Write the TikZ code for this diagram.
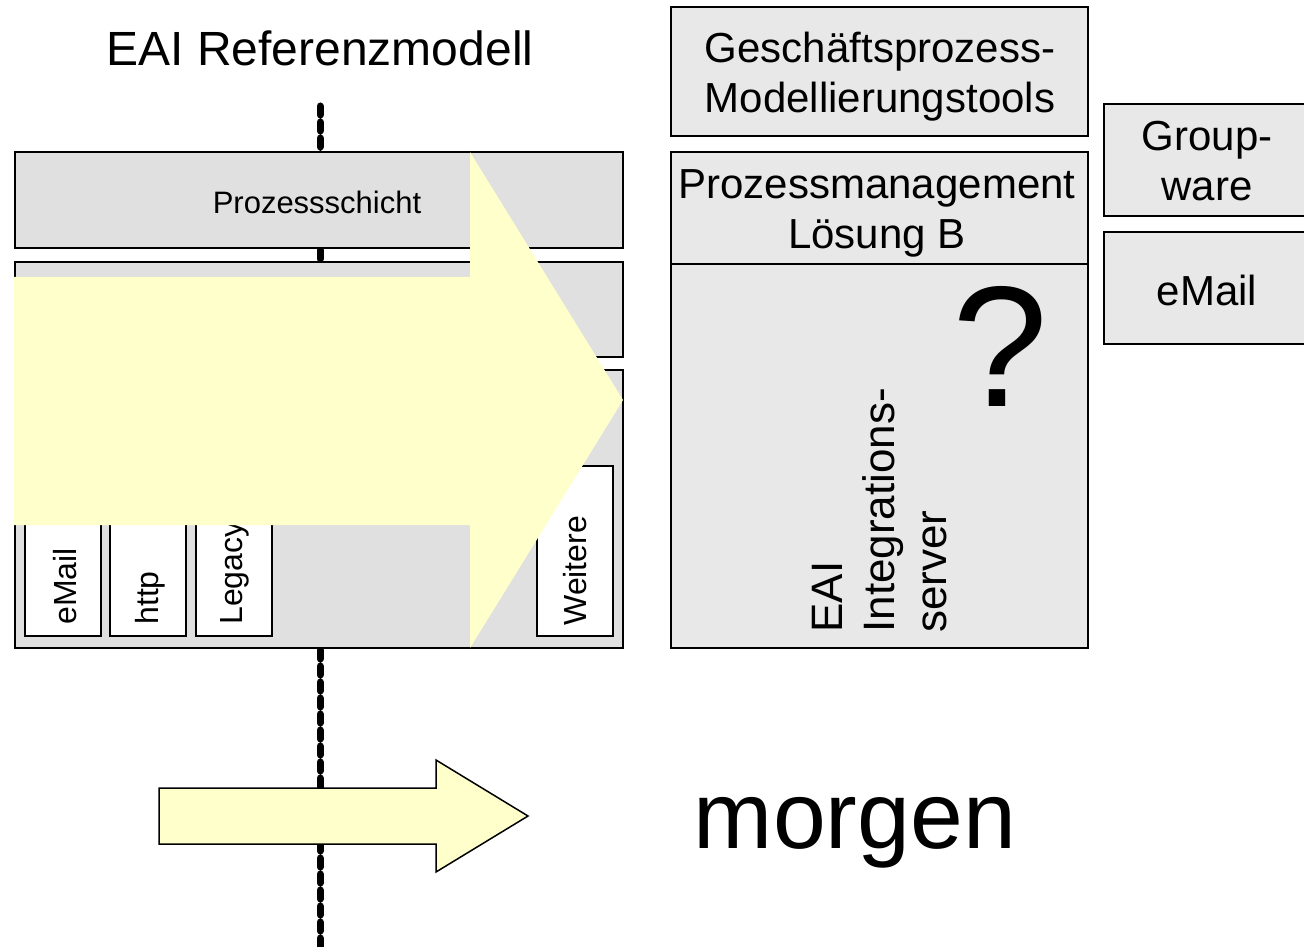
\documentclass[tikz,border=0pt]{standalone}
\usepackage{fontspec}
\setmainfont{Liberation Sans}
\usetikzlibrary{positioning}

\definecolor{layergray}{HTML}{E0E0E0}
\definecolor{rightgray}{HTML}{E8E8E8}
\definecolor{arrowyellow}{HTML}{FFFFCC}

\tikzset{
    layer/.style={draw=black, line width=1pt, fill=layergray, inner sep=0pt, minimum width=304pt},
    rbox/.style={draw=black, line width=1pt, fill=rightgray, inner sep=0pt},
    slot/.style={draw=black, line width=1pt, fill=white, inner sep=0pt, minimum width=38pt, minimum height=85pt},
    vlabel/.style={rotate=90, anchor=west, inner sep=0pt, font=\fontsize{16}{19}\selectfont},
    rlabel/.style={align=center, inner sep=0pt, font=\fontsize{21}{25}\selectfont},
    sepline/.style={line width=3.5pt, line cap=round, dash pattern=on 4.5pt off 3.5pt},
}

\begin{document}
\begin{tikzpicture}[x=0.5pt, y=-0.5pt]
    \useasboundingbox (0,0) rectangle (1304,946);

    % dividing line
    \coordinate (linetop) at (320,106);
    \coordinate (linebot) at (320,950);
    \draw[sepline] (linetop) -- (linebot);

    \node[inner sep=0pt, font=\fontsize{24}{28}\selectfont] (title) at (320,48) {EAI Referenzmodell};

    % left: reference model layers
    \node[layer, minimum height=48pt] (prozess) at (319,200) {};
    \node[layer, minimum height=47.5pt] (mitte) at (319,309.5) {};
    \node[layer, minimum height=139pt] (adapter) at (319,509) {};
    \node[inner sep=0pt, font=\fontsize{15.5}{18}\selectfont] (prozesstxt) at (317,202) {Prozessschicht};

    \node[slot] (mailslot) at (63,551) {};
    \node[slot] (httpslot) at (148,551) {};
    \node[slot] (legacyslot) at (234,551) {};
    \node[slot] (weitereslot) at (575,551) {};
    \node[vlabel] (mailtxt) at (65,625) {eMail};
    \node[vlabel] (httptxt) at (150,625) {http};
    \node[vlabel] (legacytxt) at (235,625) {Legacy};
    \node[vlabel] (weiteretxt) at (575,626) {Weitere};

    % big arrow over the model
    \fill[arrowyellow] (14,277) -- (470,277) -- (470,152) -- (623,400)
        -- (470,648) -- (470,525) -- (14,525) -- cycle;

    % right: tomorrow
    \node[rbox, minimum width=208.5pt, minimum height=64.5pt] (gpm) at (879.5,71.5) {};
    \node[rbox, minimum width=208.5pt, minimum height=56pt] (pml) at (879.5,208) {};
    \node[rbox, minimum width=208.5pt, minimum height=192pt] (eai) at (879.5,456) {};
    \node[rbox, minimum width=108pt, minimum height=56pt] (groupware) at (1212,160) {};
    \node[rbox, minimum width=108pt, minimum height=56pt] (mailbox) at (1212,288) {};

    \node[rlabel] (gpmtxt) at (880,77) {Geschäftsprozess-\\Modellierungstools};
    \node[rlabel] (pmltxt) at (877,213) {Prozessmanagement\\Lösung B};
    \node[rlabel] (groupwaretxt) at (1207,161.5) {Group-\\ware};
    \node[rlabel] (mailboxtxt) at (1207,290) {eMail};
    \node[inner sep=0pt, font=\fontsize{86}{90}\selectfont] (frage) at (1000,346) {?};
    \node[rotate=90, anchor=north west, align=left, inner sep=0pt,
          font=\fontsize{22}{26}\selectfont] (eaitxt) at (812,633) {EAI\\Integrations-\\server};

    % small arrow
    \draw[line width=0.75pt, fill=arrowyellow] (159,788) -- (436,788) -- (436,760) -- (528,816)
        -- (436,872) -- (436,844) -- (159,844) -- cycle;
    \node[inner sep=0pt, font=\fontsize{47.5}{52}\selectfont] (morgen) at (855,833) {morgen};
\end{tikzpicture}
\end{document}
